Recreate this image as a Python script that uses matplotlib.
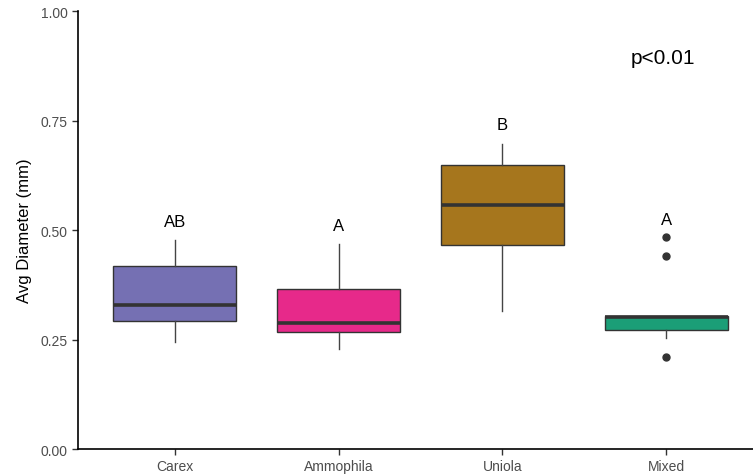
import matplotlib
matplotlib.use("Agg")
import matplotlib.pyplot as plt

categories = ["Carex", "Ammophila", "Uniola", "Mixed"]
whisker_low = [0.244, 0.228, 0.316, 0.253]
q1 = [0.292, 0.267, 0.466, 0.272]
median = [0.329, 0.288, 0.558, 0.301]
q3 = [0.418, 0.365, 0.649, 0.304]
whisker_high = [0.477, 0.468, 0.696, 0.304]
outliers = [[], [], [], [0.483, 0.440, 0.209]]
letters = ["AB", "A", "B", "A"]
letter_y = [0.52, 0.51, 0.74, 0.525]
colors = ["#7570B3", "#E7298A", "#A6761D", "#1B9E77"]
yticks = [0.00, 0.25, 0.50, 0.75, 1.00]

plt.rcParams['font.family'] = ['Liberation Sans', 'DejaVu Sans']

fig = plt.figure(figsize=(7.53, 4.77), dpi=100)
ax = fig.add_axes([0.1036, 0.0566, 0.8964, 0.9182])

stats = []
for i, c in enumerate(categories):
    stats.append(dict(label=c, whislo=whisker_low[i], q1=q1[i], med=median[i],
                      q3=q3[i], whishi=whisker_high[i], fliers=outliers[i]))

pos = list(range(1, len(categories) + 1))
bp = ax.bxp(stats, positions=pos, widths=0.75, patch_artist=True, showcaps=False,
            boxprops=dict(edgecolor="#333333", linewidth=1.0),
            medianprops=dict(color="#333333", linewidth=2.6),
            whiskerprops=dict(color="#444444", linewidth=1.0),
            flierprops=dict(marker="o", markerfacecolor="#333333", markeredgecolor="#333333",
                            markersize=5, linestyle="none"))
for patch, col in zip(bp["boxes"], colors):
    patch.set_facecolor(col)

for p, t, yv in zip(pos, letters, letter_y):
    ax.text(p, yv, t, ha="center", va="center", fontsize=12, color="black")

ax.text(3.98, 0.895, "p<0.01", ha="center", va="center", fontsize=15, color="black")

ax.set_xlim(0.41, 4.53)
ax.set_ylim(0, 1)
ax.set_yticks(yticks)
ax.set_yticklabels([f"{v:.2f}" for v in yticks])
ax.set_xticks(pos)
ax.set_xticklabels(categories)
ax.set_ylabel("Avg Diameter (mm)", fontsize=12, color="black", labelpad=6)
ax.tick_params(axis="both", colors="#333333", labelcolor="#4D4D4D", labelsize=10, length=4, width=1)
for s in ["top", "right"]:
    ax.spines[s].set_visible(False)
for s in ["left", "bottom"]:
    ax.spines[s].set_linewidth(1.2)
    ax.spines[s].set_color("black")

fig.savefig("out.png", dpi=100)
